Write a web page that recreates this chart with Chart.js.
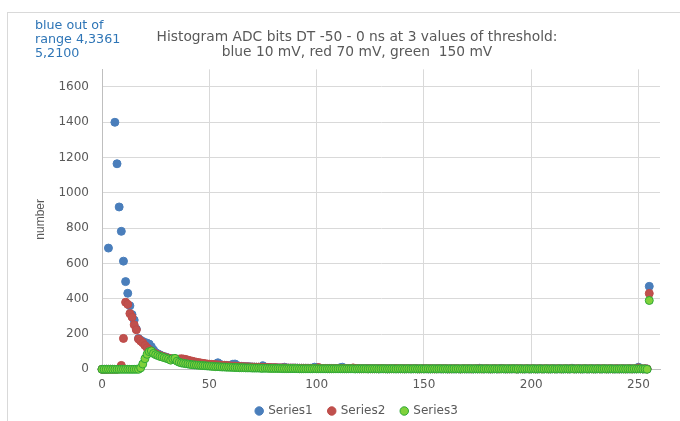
<!DOCTYPE html>
<html>
<head>
<meta charset="utf-8">
<title>Histogram ADC bits</title>
<script src="https://cdn.jsdelivr.net/npm/chart.js@4.4.1/dist/chart.umd.min.js"></script>
<style>
    body { margin: 0; background: #ffffff; overflow: hidden; }
    #frame { position: absolute; left: 7px; top: 12px; width: 698px; height: 425px; border: 1px solid #d9d9d9; }
    #note { position: absolute; left: 35px; top: 18px; font: 12.7px/13.9px "DejaVu Sans"; color: #2e75b6; }
</style>
</head>
<body>
<div id="frame"><canvas id="chart"></canvas></div>
<div id="note">blue out of<br>range 4,3361<br>5,2100</div>
<script>
// ADC bit bins 0..255
const adcBins = Array.from({ length: 256 }, (_, i) => i)

// Series1 - blue, 10 mV threshold (bins 4 and 5 are off the scale)
const series1 = [
    0, 0, 0, 687, 3361, 2100, 1400, 1165, 920, 782, 613, 497, 431, 360, 310, 279,
    228, 175, 165, 158, 152, 148, 143, 128, 110, 95, 88, 82, 76, 72, 68, 64,
    60, 57, 55, 52, 50, 48, 45, 43, 41, 39, 37, 35, 34, 33, 31, 30,
    29, 28, 27, 26, 25, 30, 37, 27, 24, 23, 22, 21, 22, 29, 30, 20,
    18, 17, 16, 15, 15, 14, 13, 13, 12, 12, 11, 20, 11, 10, 10, 9,
    9, 9, 8, 8, 8, 12, 8, 7, 7, 7, 7, 7, 6, 6, 6, 6,
    6, 6, 6, 12, 10, 6, 5, 5, 5, 5, 5, 5, 5, 5, 5, 9,
    12, 5, 4, 4, 4, 4, 4, 4, 4, 4, 4, 4, 4, 4, 4, 4,
    4, 3, 3, 4, 3, 3, 3, 4, 3, 3, 3, 3, 4, 3, 3, 3,
    3, 3, 4, 3, 3, 3, 3, 3, 2, 3, 3, 3, 3, 3, 2, 3,
    3, 2, 3, 3, 2, 3, 3, 2, 3, 3, 2, 3, 3, 2, 3, 3,
    6, 3, 2, 3, 3, 2, 3, 3, 2, 3, 5, 3, 2, 3, 3, 2,
    3, 3, 2, 3, 3, 2, 3, 3, 2, 3, 3, 2, 3, 3, 2, 3,
    3, 2, 3, 3, 2, 3, 3, 2, 3, 3, 2, 6, 3, 2, 3, 3,
    2, 3, 3, 2, 3, 3, 2, 3, 3, 2, 3, 3, 2, 3, 3, 2,
    3, 3, 2, 3, 3, 2, 3, 3, 2, 3, 12, 3, 2, 3, 2, 470
]

// Series2 - red, 70 mV threshold
const series2 = [
    0, 0, 0, 0, 0, 0, 0, 0, 3, 22, 175, 380, 368, 316, 296, 252,
    224, 172, 160, 150, 135, 122, 112, 102, 95, 88, 82, 78, 74, 70, 66, 63,
    60, 58, 57, 56, 58, 60, 58, 56, 52, 49, 46, 43, 40, 38, 36, 34,
    32, 30, 29, 28, 27, 26, 25, 24, 23, 22, 21, 20, 19, 18, 18, 17,
    16, 15, 15, 14, 14, 13, 13, 12, 12, 12, 11, 11, 10, 10, 10, 9,
    9, 9, 8, 8, 8, 8, 7, 7, 7, 7, 7, 6, 6, 6, 6, 6,
    6, 5, 5, 5, 5, 10, 5, 5, 5, 4, 4, 4, 4, 4, 4, 4,
    4, 4, 4, 4, 4, 8, 4, 4, 3, 3, 3, 3, 3, 3, 3, 3,
    3, 3, 4, 3, 3, 3, 3, 3, 3, 4, 3, 3, 3, 3, 3, 3,
    3, 3, 3, 3, 2, 3, 3, 3, 3, 3, 3, 2, 3, 3, 3, 3,
    3, 3, 2, 3, 3, 3, 3, 2, 3, 3, 3, 3, 2, 3, 3, 3,
    3, 2, 3, 3, 3, 2, 3, 3, 3, 2, 3, 3, 3, 2, 3, 3,
    3, 2, 3, 3, 2, 3, 3, 2, 3, 3, 2, 3, 3, 2, 3, 3,
    2, 3, 3, 2, 3, 3, 2, 3, 3, 2, 3, 3, 2, 3, 3, 2,
    3, 3, 2, 3, 3, 2, 3, 3, 2, 3, 3, 2, 3, 3, 2, 3,
    3, 2, 3, 3, 2, 3, 3, 2, 3, 3, 8, 3, 2, 3, 2, 430
]

// Series3 - green, 150 mV threshold
const series3 = [
    0, 0, 0, 0, 0, 0, 0, 0, 0, 0, 0, 0, 0, 0, 0, 0,
    0, 0, 8, 30, 60, 85, 100, 104, 90, 83, 78, 73, 70, 66, 62, 58,
    52, 60, 62, 46, 40, 36, 34, 32, 30, 28, 26, 25, 24, 23, 22, 21,
    20, 19, 18, 17, 16, 15, 15, 14, 13, 13, 12, 12, 11, 11, 10, 10,
    9, 9, 9, 8, 8, 8, 7, 7, 7, 7, 6, 6, 6, 6, 5, 5,
    5, 5, 5, 5, 4, 4, 4, 4, 4, 4, 4, 4, 3, 3, 3, 3,
    3, 3, 3, 4, 3, 3, 3, 3, 3, 3, 3, 3, 3, 3, 3, 3,
    3, 3, 3, 3, 3, 3, 2, 3, 3, 3, 3, 3, 2, 3, 3, 3,
    3, 2, 3, 3, 3, 2, 3, 3, 3, 2, 3, 3, 3, 2, 3, 3,
    2, 3, 3, 2, 3, 3, 2, 3, 3, 2, 3, 3, 2, 3, 3, 2,
    3, 2, 3, 2, 3, 2, 3, 2, 3, 2, 3, 2, 3, 2, 3, 2,
    2, 3, 2, 3, 2, 3, 2, 3, 2, 3, 2, 3, 2, 3, 2, 3,
    3, 2, 2, 3, 2, 2, 3, 2, 2, 3, 2, 2, 3, 2, 2, 3,
    2, 2, 3, 2, 2, 3, 2, 2, 3, 2, 2, 3, 2, 2, 3, 2,
    2, 3, 2, 2, 3, 2, 2, 3, 2, 2, 3, 2, 2, 3, 2, 2,
    2, 2, 3, 2, 2, 3, 2, 2, 3, 2, 2, 3, 2, 2, 0, 390
]

const seriesLabels = ['Series1', 'Series2', 'Series3']
const titleLines = ['Histogram ADC bits DT -50 - 0 ns at 3 values of threshold:', 'blue 10 mV, red 70 mV, green  150 mV']
const yAxisTitle = 'number'

document.addEventListener("DOMContentLoaded", () => {
    const ctx = document.getElementById("chart").getContext("2d")
    const textColor = '#595959'
    const gridColor = '#d9d9d9'
    const tickFont = { family: 'DejaVu Sans', size: 12 }

    const toPoints = (values) => values.map((v, i) => ({ x: adcBins[i], y: v }))
    // plain numbers, no thousands separator
    const plainTick = (value) => String(value)

    let chart = new Chart(ctx, {
        type: 'scatter',
        data: {
            datasets: [
                {
                    label: seriesLabels[0],
                    data: toPoints(series1),
                    backgroundColor: '#4a7ebb',
                    borderColor: '#4a7ebb',
                    borderWidth: 1,
                    pointRadius: 4,
                    clip: 6,
                    order: 3
                },
                {
                    label: seriesLabels[1],
                    data: toPoints(series2),
                    backgroundColor: '#c0504d',
                    borderColor: '#be4b48',
                    borderWidth: 1,
                    pointRadius: 4,
                    clip: 6,
                    order: 2
                },
                {
                    label: seriesLabels[2],
                    data: toPoints(series3),
                    backgroundColor: '#7fd13b',
                    borderColor: '#2ea836',
                    borderWidth: 1,
                    pointRadius: 4,
                    clip: 6,
                    order: 1
                }
            ]
        },
        options: {
            responsive: true,
            maintainAspectRatio: false,
            animation: false,
            layout: { padding: { top: 0, left: 46, right: 46, bottom: 11 } },
            plugins: {
                title: {
                    display: true,
                    text: titleLines,
                    color: textColor,
                    font: { family: 'DejaVu Sans', size: 13.8, weight: 'normal', lineHeight: 1.06 },
                    padding: { top: 17.4, bottom: 9.7 }
                },
                legend: {
                    position: 'bottom',
                    labels: {
                        usePointStyle: true,
                        pointStyle: 'circle',
                        boxWidth: 6,
                        boxHeight: 6,
                        padding: 16,
                        color: textColor,
                        font: tickFont,
                        sort: (a, b) => a.datasetIndex - b.datasetIndex
                    }
                },
                tooltip: { enabled: false }
            },
            scales: {
                x: {
                    type: 'linear',
                    min: 0,
                    max: 260,
                    ticks: { stepSize: 50, includeBounds: false, padding: 8.5, color: textColor, font: tickFont, callback: plainTick },
                    grid: { color: gridColor, drawTicks: false },
                    border: { color: '#bfbfbf' },
                    afterFit: (scale) => { scale.height = 19.7 }
                },
                y: {
                    min: 0,
                    max: 1700,
                    ticks: { stepSize: 200, includeBounds: false, padding: 13, color: textColor, font: tickFont, callback: plainTick },
                    grid: { color: gridColor, drawTicks: false },
                    border: { color: '#bfbfbf' },
                    title: {
                        display: true,
                        text: yAxisTitle,
                        color: textColor,
                        font: { family: 'Liberation Sans', size: 12 },
                        padding: { top: -20.2, bottom: 0 }
                    },
                    afterFit: (scale) => { scale.width = 48 }
                }
            }
        }
    })
})
</script>
</body>
</html>
